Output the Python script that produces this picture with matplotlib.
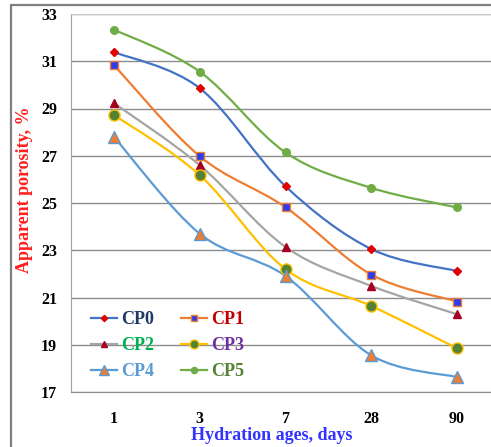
"""Apparent porosity vs hydration age chart."""

import matplotlib

matplotlib.use("Agg")
import matplotlib.pyplot as plt
import numpy as np
from matplotlib.path import Path
from matplotlib.patches import PathPatch, Rectangle
from matplotlib.lines import Line2D

ages = ["1", "3", "7", "28", "90"]
cp0 = [31.39, 29.86, 25.71, 23.05, 22.12]
cp1 = [30.84, 26.98, 24.82, 21.97, 20.83]
cp2 = [29.23, 26.60, 23.14, 21.49, 20.29]
cp3 = [28.73, 26.18, 22.20, 20.64, 18.85]
cp4 = [27.80, 23.70, 21.91, 18.55, 17.63]
cp5 = [32.34, 30.56, 27.14, 25.64, 24.81]

series = [
    ("CP0", cp0, "#4472C4", dict(marker="D", ms=4, mfc="#E00000", mec="#E00000"), "#1F3864"),
    ("CP1", cp1, "#ED7D31", dict(marker="s", ms=6, mfc="#2E3CF0", mec="#ED7D31", mew=1), "#C00000"),
    ("CP2", cp2, "#A5A5A5", dict(marker="^", ms=5.5, mfc="#A50021", mec="#A50021"), "#00B050"),
    ("CP3", cp3, "#FFC000", dict(marker="o", ms=8, mfc="#548235", mec="#FFC000", mew=1), "#7030A0"),
    ("CP4", cp4, "#5B9BD5", dict(marker="^", ms=8.5, mfc="#ED7D31", mec="#5B9BD5", mew=1), "#5B9BD5"),
    ("CP5", cp5, "#70AD47", dict(marker="o", ms=5.5, mfc="#70AD47", mec="#70AD47"), "#548235"),
]

SERIF = "Liberation Serif"


def smooth_path(x, y):
    """Catmull-Rom style smoothed line as cubic Bezier path (like Excel smoothing)."""
    pts = np.column_stack([x, y]).astype(float)
    n = len(pts)
    verts = [pts[0]]
    codes = [Path.MOVETO]
    for i in range(n - 1):
        p0 = pts[i - 1] if i > 0 else pts[i]
        p1 = pts[i]
        p2 = pts[i + 1]
        p3 = pts[i + 2] if i + 2 < n else pts[i + 1]
        c1 = p1 + (p2 - p0) / 6.0
        c2 = p2 - (p3 - p1) / 6.0
        verts += [c1, c2, p2]
        codes += [Path.CURVE4] * 3
    return Path(verts, codes)


fig = plt.figure(figsize=(4.91, 4.47), dpi=100)

# outer chart border
fig.patches.append(Rectangle((11 / 491, -0.1), 1.2, 1 - 5 / 447 + 0.1, transform=fig.transFigure,
                             fill=False, edgecolor="#808080", linewidth=1.6, zorder=0))

ax = fig.add_axes([71 / 491, 1 - 392 / 447, 429 / 491, 378 / 447])
x = np.arange(len(ages))

handles = {}
for name, vals, color, mk, tcolor in series:
    ax.add_patch(PathPatch(smooth_path(x, vals), facecolor="none", edgecolor=color, linewidth=1.6, zorder=3))
    ax.plot(x, vals, linestyle="none", zorder=4, **mk)
    handles[name] = Line2D([], [], color=color, linewidth=1.6, **mk)

ax.set_xlim(-0.5, 4.5)
ax.set_ylim(17, 33)
ax.set_yticks(np.arange(17, 34, 2))
ax.set_xticks(x)
ax.set_xticklabels(ages)
ax.tick_params(axis="x", length=0, pad=14)
ax.tick_params(axis="y", length=0, pad=10)
for lab in ax.get_xticklabels() + ax.get_yticklabels():
    lab.set_fontfamily(SERIF)
    lab.set_fontweight("bold")
    lab.set_fontsize(11.5)
ax.grid(axis="y", color="#8C8C8C", linewidth=1)
ax.set_axisbelow(True)
ax.spines["right"].set_visible(False)
ax.spines["left"].set_color("#A0A0A0")
ax.spines["top"].set_color("#C8C8C8")
ax.spines["bottom"].set_color("#8C8C8C")

ax.set_ylabel("Apparent porosity, %", color="#FF2020", fontfamily=SERIF, fontweight="bold", fontsize=13)
ax.yaxis.set_label_coords((33 - 71) / 429, (392 - 190) / 378)
ax.set_xlabel("Hydration ages, days", color="#3333FF", fontfamily=SERIF, fontweight="bold", fontsize=13)
ax.xaxis.set_label_coords((272 - 71) / 429, (392 - 427) / 378)

# row-major order: CP0 CP1 / CP2 CP3 / CP4 CP5 (matplotlib fills columns first)
order = ["CP0", "CP2", "CP4", "CP1", "CP3", "CP5"]
leg = ax.legend([handles[k] for k in order], order, ncol=2, loc="upper left",
                bbox_to_anchor=((91 - 71) / 429, (392 - 311) / 378), borderaxespad=0, borderpad=0,
                frameon=False, handlelength=1.45, handletextpad=0.2, columnspacing=1.5, labelspacing=0.5,
                markerscale=0.8, prop={"family": SERIF, "weight": "bold", "size": 13})
colors = {s[0]: s[4] for s in series}
for txt, k in zip(leg.get_texts(), order):
    txt.set_color(colors[k])

fig.savefig("out.png", dpi=100)
